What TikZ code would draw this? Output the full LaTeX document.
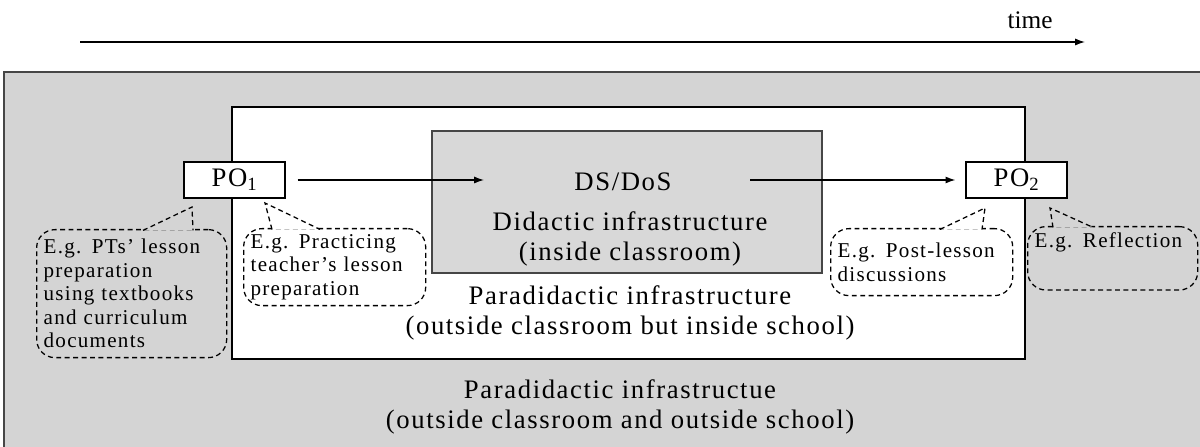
\documentclass[tikz,border=0pt]{standalone}
\usepackage{fontspec}
\setmainfont{Liberation Serif}
\newfontfamily\spacedfont[LetterSpace=6]{Liberation Serif}
\usetikzlibrary{arrows.meta, positioning}
\definecolor{outergray}{RGB}{212,212,212}
\definecolor{innergray}{RGB}{216,216,216}
\definecolor{framegray}{RGB}{70,70,70}

\begin{document}
\begin{tikzpicture}[>={Latex[length=7pt,width=5pt]}, line width=0.9pt]
    \tikzstyle{po box}=[draw, fill=white, minimum width=2.525cm, minimum height=0.9cm, inner sep=0pt, font=\spacedfont\fontsize{19}{21}\selectfont]
    \tikzstyle{infra}=[align=center, font=\spacedfont\fontsize{19}{21}\selectfont]
    \tikzstyle{example}=[draw, dash pattern=on 3.5pt off 2.5pt, rounded corners=13pt, align=left, inner xsep=5pt, anchor=north west, font=\spacedfont\fontsize{15}{16.7}\selectfont]
    \tikzstyle{pointer}=[dash pattern=on 3.5pt off 2.5pt]

    \useasboundingbox (0,0) rectangle (30,11.175);

    % time axis
    \coordinate (t start) at (2,10.125);
    \coordinate (t end) at (27.125,10.125);
    \draw[->] (t start) -- (t end);
    \node[font=\fontsize{18}{21}\selectfont] (time) at (25.75,10.675) {time};

    % infrastructures
    \draw[framegray, line width=1.2pt, fill=outergray] (0.1,-0.5) rectangle (30.5,9.375);
    \draw[fill=white] (5.8,2.2) rectangle (25.625,8.5);
    \node[draw=framegray, fill=innergray, minimum width=9.75cm, minimum height=3.55cm] (didactic) at (15.675,6.125) {};

    \node[infra] (dsdos) at (15.575,6.625) {DS/DoS};
    \node[infra] (did) at (15.75,5.2) {Didactic infrastructure\\(inside classroom)};
    \node[infra] (para) at (15.75,3.35) {Paradidactic infrastructure\\(outside classroom but inside school)};
    \node[infra] (para out) at (15.5,1.0) {Paradidactic infrastructue\\(outside classroom and outside school)};

    \node[po box] (PO1) at (5.8625,6.675) {PO\textsubscript{1}};
    \node[po box] (PO2) at (25.4125,6.675) {PO\textsubscript{2}};

    \coordinate (a1 end) at (12.1,6.675);
    \coordinate (a2 start) at (18.75,6.675);
    \draw[->] ([xshift=0.3cm]PO1.east) -- (a1 end);
    \draw[->] (a2 start) -- ([xshift=-0.25cm]PO2.west);

    % examples
    \node[example, text width=4.4cm, minimum height=3.2cm] (ex1) at (0.9,5.45) {E.g. PTs’ lesson\\preparation\\using textbooks\\and curriculum\\documents};
    \node[example, text width=4.2cm, minimum height=1.925cm] (ex2) at (6.075,5.475) {E.g. Practicing\\teacher’s lesson\\preparation};
    \node[example, text width=4.2cm, minimum height=1.675cm] (ex3) at (20.75,5.475) {E.g. Post-lesson\\discussions};
    \node[example, text width=3.9cm, text height=0.4cm, text depth=0.95cm] (ex4) at (25.675,5.525) {E.g. Reflection};

    \coordinate (tip1) at (4.8,6.0);
    \coordinate (tip2) at (6.625,6.1);
    \coordinate (tip3) at (24.625,5.975);
    \coordinate (tip4) at (26.25,5.975);
    \filldraw[pointer, fill=outergray] ([xshift=2.675cm,yshift=-1pt]ex1.north west) -- (tip1) -- ([xshift=3.925cm,yshift=-1pt]ex1.north west);
    \filldraw[pointer, fill=white] ([xshift=0.725cm,yshift=-1pt]ex2.north west) -- (tip2) -- ([xshift=1.925cm,yshift=-1pt]ex2.north west);
    \filldraw[pointer, fill=white] ([xshift=2.75cm,yshift=-1pt]ex3.north west) -- (tip3) -- ([xshift=3.8cm,yshift=-1pt]ex3.north west);
    \filldraw[pointer, fill=outergray] ([xshift=0.65cm,yshift=-1pt]ex4.north west) -- (tip4) -- ([xshift=1.65cm,yshift=-1pt]ex4.north west);
\end{tikzpicture}
\end{document}
